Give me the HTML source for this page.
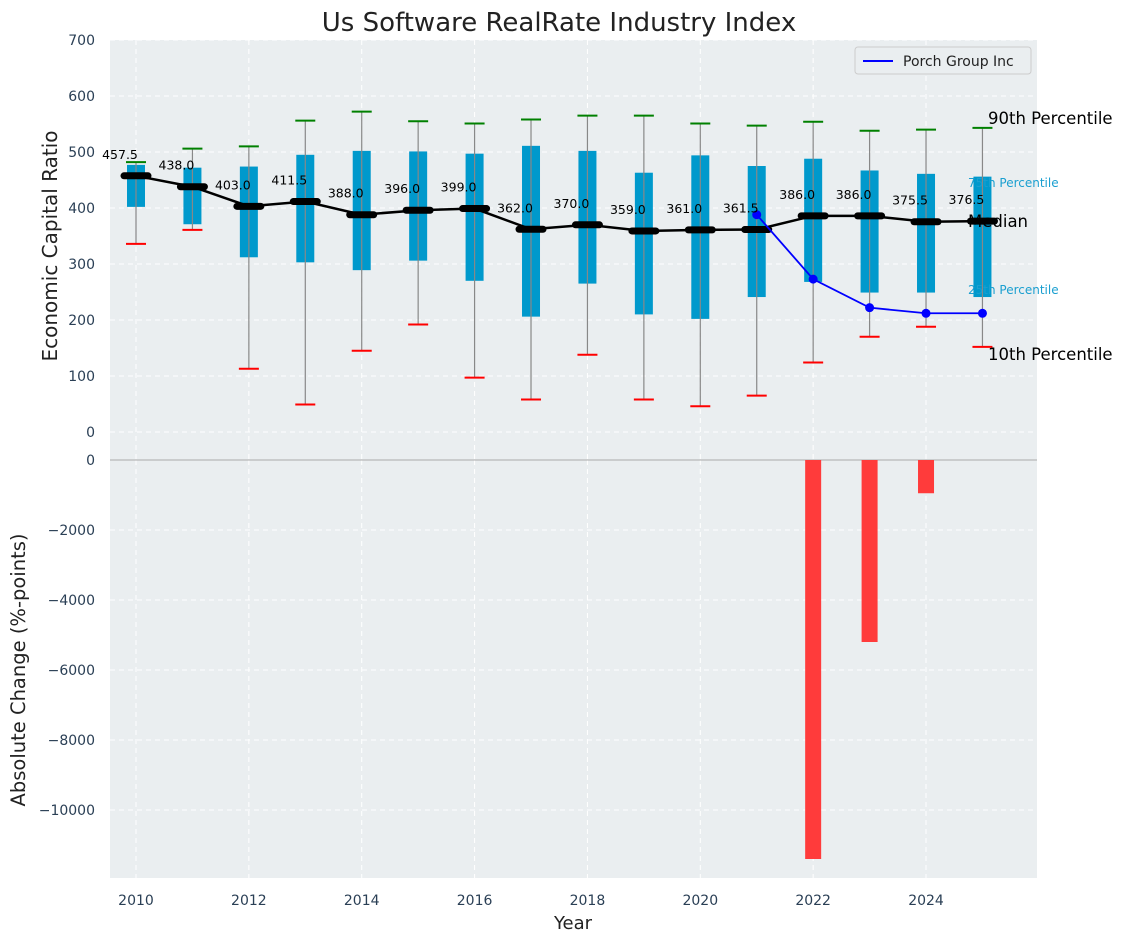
<!DOCTYPE html>
<html><head><meta charset="utf-8"><style>
body{margin:0;background:#fff;font-family:"Liberation Sans","DejaVu Sans",sans-serif}
svg text{font-family:"DejaVu Sans","Liberation Sans",sans-serif}
</style></head><body>
<svg id="chart" width="1123" height="942" xmlns="http://www.w3.org/2000/svg">
<rect x="110" y="40" width="927" height="420" fill="#eaeef0"/>
<rect x="110" y="460" width="927" height="418" fill="#eaeef0"/>
<g id="grid"></g><g id="marks"></g><g id="labels"></g>
<text x="559" y="31" font-size="26" text-anchor="middle" fill="#222">Us Software RealRate Industry Index</text>
<text x="573" y="929" font-size="18" text-anchor="middle" fill="#222">Year</text>
<text transform="translate(57,246) rotate(-90)" font-size="20" text-anchor="middle" fill="#222">Economic Capital Ratio</text>
<text transform="translate(25,670) rotate(-90)" font-size="19.5" text-anchor="middle" fill="#222">Absolute Change (%-points)</text>
<g>
<rect x="855" y="47" width="176" height="27" fill="#eaeef0" stroke="#ccc" rx="3"/>
<line x1="863" y1="61" x2="893" y2="61" stroke="#0000ff" stroke-width="2"/>
<text x="903" y="66" font-size="14" fill="#222">Porch Group Inc</text>
</g>
<text x="988" y="124" font-size="16.5" fill="#000">90th Percentile</text>
<text x="968" y="187" font-size="12" fill="#1a9fd0">75th Percentile</text>
<text x="968" y="227" font-size="16.5" fill="#000">Median</text>
<text x="968" y="294" font-size="12" fill="#1a9fd0">25th Percentile</text>
<text x="988" y="360" font-size="16.5" fill="#000">10th Percentile</text>
</svg>
<script>
const years=[2010,2011,2012,2013,2014,2015,2016,2017,2018,2019,2020,2021,2022,2023,2024,2025];
const p10=[336,361,113,49,145,192,97,58,138,58,46,65,124,170,188,152];
const p25=[402,371,312,303,289,306,270,206,265,210,202,241,268,249,249,241];
const med=[457.5,438,403,411.5,388,396,399,362,370,359,361,361.5,386,386,375.5,376.5];
const p75=[477,472,474,495,502,501,497,511,502,463,494,475,488,467,461,456];
const p90=[482,506,510,556,572,555,551,558,565,565,551,547,554,538,540,543];
const porchYears=[2021,2022,2023,2024,2025];
const porchVals=[388,273,222,212,212];
const chgYears=[2022,2023,2024];
const chgVals=[-11400,-5200,-950];
const topTicks=[0,100,200,300,400,500,600,700];
const botTicks=[0,-2000,-4000,-6000,-8000,-10000];
const xTicks=[2010,2012,2014,2016,2018,2020,2022,2024];
const NS='http://www.w3.org/2000/svg';
const X=y=>136+(y-2010)*56.43;
const Y=v=>432-v*0.56;
const Y2=v=>460-v*0.035;
function mk(parent,tag,a){const e=document.createElementNS(NS,tag);for(const k in a)e.setAttribute(k,a[k]);document.getElementById(parent).appendChild(e);return e;}
topTicks.forEach(t=>{
 const l=mk('grid','line',{x1:110,x2:1037,y1:Y(t),y2:Y(t),stroke:'#fff','stroke-dasharray':'5,4','stroke-width':1});
 
 
 const tx=mk('labels','text',{x:95,y:Y(t)+5,'font-size':14,'text-anchor':'end',fill:'#2a3f55'});tx.textContent=t;
 
 
});
botTicks.forEach(t=>{
 const l=mk('grid','line',{x1:110,x2:1037,y1:Y2(t),y2:Y2(t),stroke:'#fff','stroke-dasharray':'5,4','stroke-width':1});
 
 
 const tx=mk('labels','text',{x:95,y:Y2(t)+5,'font-size':14,'text-anchor':'end',fill:'#2a3f55'});tx.textContent=String(t).replace('-','\u2212');
 
 
});
xTicks.forEach(t=>{
 [[40,460],[460,878]].forEach(r=>{const l=mk('grid','line',{x1:X(t),x2:X(t),y1:r[0],y2:r[1],stroke:'#fff','stroke-dasharray':'5,4'});
 
 });
 const tx=mk('labels','text',{x:X(t),y:905,'font-size':14,'text-anchor':'middle',fill:'#2a3f55'});tx.textContent=t;
 
 
});
const zl=mk('grid','line',{x1:110,x2:1037,y1:460,y2:460,stroke:'#aaa','stroke-width':1});


years.forEach((yr,i)=>{
 const x=X(yr);
 const b=mk('marks','rect',{x:x-9,y:Y(p75[i]),width:18,height:Y(p25[i])-Y(p75[i]),fill:'#0099cc'});
 
 
 const w=mk('marks','line',{x1:x,x2:x,y1:Y(p10[i]),y2:Y(p90[i]),stroke:'#888','stroke-width':1.2});
 
 
 const c1=mk('marks','line',{x1:x-10,x2:x+10,y1:Y(p10[i]),y2:Y(p10[i]),stroke:'#ff0000','stroke-width':2});
 
 
 const c2=mk('marks','line',{x1:x-10,x2:x+10,y1:Y(p90[i]),y2:Y(p90[i]),stroke:'#008000','stroke-width':2});
 
 
});
const ml=mk('marks','polyline',{points:years.map((y,i)=>X(y)+','+Y(med[i])).join(' '),fill:'none',stroke:'#000','stroke-width':2.5});


years.forEach((yr,i)=>{
 const x=X(yr);
 const m=mk('marks','line',{x1:x-12,x2:x+12,y1:Y(med[i]),y2:Y(med[i]),stroke:'#000','stroke-width':7,'stroke-linecap':'round'});
 
 
 const t=mk('labels','text',{x:x-16,y:Y(med[i])-17,'font-size':12.5,'text-anchor':'middle',fill:'#000'});t.textContent=med[i].toFixed(1);
 
 
});
const pl=mk('marks','polyline',{points:porchYears.map((y,i)=>X(y)+','+Y(porchVals[i])).join(' '),fill:'none',stroke:'#0000ff','stroke-width':1.8});


porchYears.forEach((yr,i)=>{
 const c=mk('marks','circle',{cx:X(yr),cy:Y(porchVals[i]),r:4.5,fill:'#0000ff'});
 
 
});
chgYears.forEach((yr,i)=>{
 const r=mk('marks','rect',{x:X(yr)-8,y:Y2(0),width:16,height:Y2(chgVals[i])-Y2(0),fill:'#ff3b3b'});
 
 
});
</script>
</body></html>
